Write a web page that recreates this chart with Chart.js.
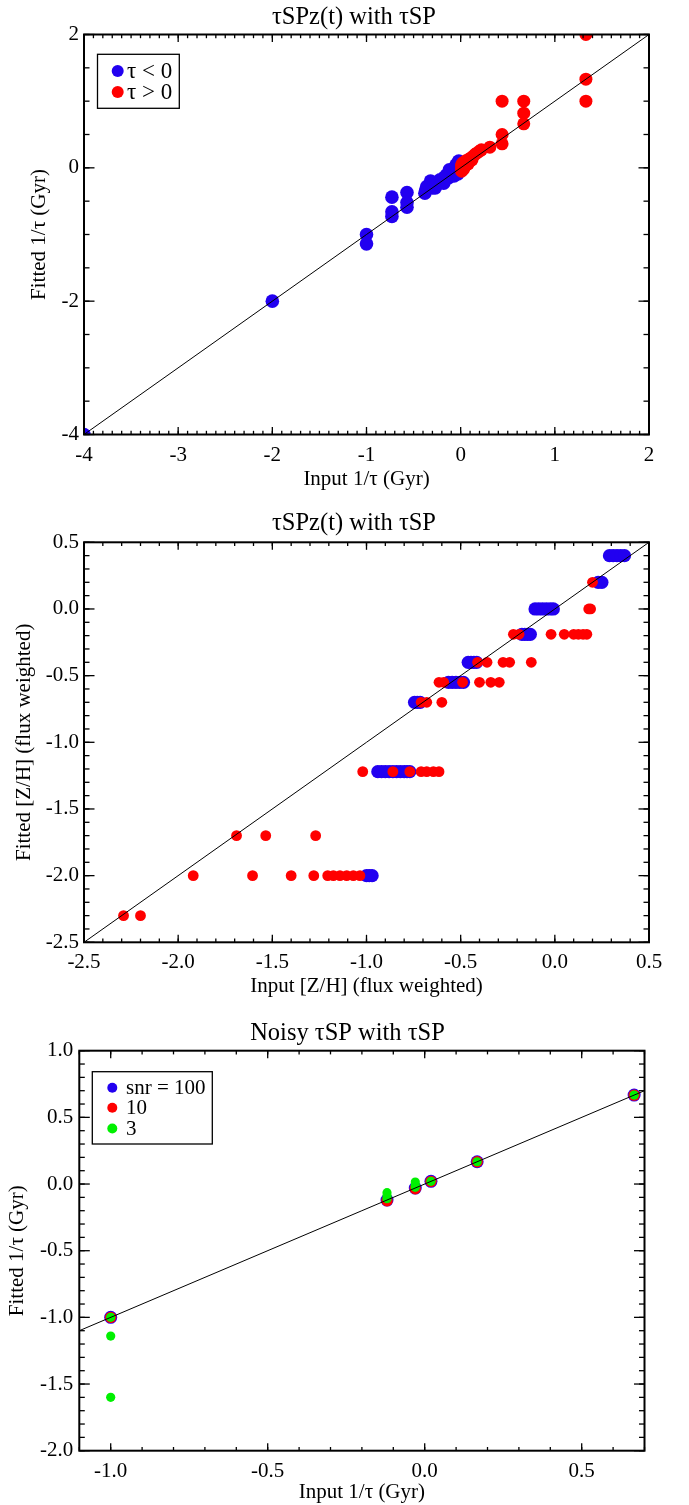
<!DOCTYPE html>
<html>
<head>
<meta charset="utf-8">
<title>tauSP fits</title>
<script src="https://cdn.jsdelivr.net/npm/chart.js@4.4.1/dist/chart.umd.min.js"></script>
<style>
  body { margin: 0; background: #fff; }
  .wrap { position: relative; width: 689px; height: 1505px; }
  canvas { position: absolute; left: 0; }
</style>
</head>
<body>
<div class="wrap">
  <canvas id="c1" width="689" height="500" style="top:0"></canvas>
  <canvas id="c2" width="689" height="500" style="top:500px"></canvas>
  <canvas id="c3" width="689" height="505" style="top:1000px"></canvas>
</div>
<script>
// ---- panel 1: input vs fitted 1/tau ----
const tauXLabels = ['-4', '-3', '-2', '-1', '0', '1', '2'];
const tauYLabels = ['-4', '-2', '0', '2'];
const tauNegIn  = [-4, -2, -1, -1, -0.73, -0.73, -0.73, -0.57, -0.57, -0.57,
                   -0.38, -0.37, -0.36, -0.33, -0.32, -0.3, -0.28, -0.27, -0.25, -0.22, -0.2, -0.18, -0.17,
                   -0.15, -0.13, -0.12, -0.11, -0.1, -0.08, -0.07, -0.06, -0.05, -0.04, -0.03, -0.03,
                   -0.02, -0.01, 0.0];
const tauNegFit = [-4, -2, -1.0, -1.14, -0.44, -0.66, -0.73, -0.37, -0.52, -0.59,
                   -0.38, -0.33, -0.28, -0.26, -0.2, -0.3, -0.22, -0.3, -0.24, -0.18, -0.2, -0.23, -0.14,
                   -0.11, -0.15, -0.03, -0.08, -0.05, -0.1, -0.12, 0.0, 0.04, -0.07, 0.08, -0.09,
                   0.1, -0.04, 0.05];
const tauPosIn  = [0.01, 0.01, 0.01, 0.02, 0.02, 0.03, 0.04, 0.05, 0.05, 0.06, 0.07, 0.08, 0.09,
                   0.1, 0.11, 0.12, 0.13, 0.15, 0.17, 0.2, 0.22, 0.31, 0.44, 0.44, 0.44,
                   0.67, 0.67, 0.67, 1.33, 1.33, 1.33];
const tauPosFit = [-0.05, 0.0, 0.04, 0.07, 0.02, -0.02, 0.09, 0.03, 0.07, 0.11, 0.08, 0.06, 0.13,
                   0.11, 0.15, 0.12, 0.17, 0.2, 0.22, 0.25, 0.27, 0.31, 0.36, 0.5, 1.0,
                   0.66, 0.82, 1.0, 1.0, 1.33, 2.0];
const tauLine = [-4, 2];

// ---- panel 2: input vs fitted [Z/H] ----
const zhXLabels = ['-2.5', '-2.0', '-1.5', '-1.0', '-0.5', '0.0', '0.5'];
const zhYLabels = ['-2.5', '-2.0', '-1.5', '-1.0', '-0.5', '0.0', '0.5'];
const zhNegIn  = [0.29, 0.31, 0.33, 0.35, 0.37,
                  0.23, 0.25,
                  -0.105, -0.085, -0.065, -0.045, -0.025, -0.008,
                  -0.175, -0.16, -0.145, -0.13,
                  -0.46, -0.445, -0.43, -0.415,
                  -0.565, -0.545, -0.525, -0.505, -0.485,
                  -0.745, -0.73, -0.715,
                  -0.94, -0.92, -0.9, -0.88, -0.86, -0.84, -0.82, -0.8, -0.785, -0.77,
                  -1.0, -0.985, -0.97];
const zhNegFit = [0.4, 0.4, 0.4, 0.4, 0.4,
                  0.2, 0.2,
                  0.0, 0.0, 0.0, 0.0, 0.0, 0.0,
                  -0.19, -0.19, -0.19, -0.19,
                  -0.4, -0.4, -0.4, -0.4,
                  -0.55, -0.55, -0.55, -0.55, -0.55,
                  -0.7, -0.7, -0.7,
                  -1.22, -1.22, -1.22, -1.22, -1.22, -1.22, -1.22, -1.22, -1.22, -1.22,
                  -2.0, -2.0, -2.0];
const zhPosIn  = [0.2,
                  0.18, 0.19,
                  -0.22, -0.19, -0.02, 0.05, 0.1, 0.125, 0.15, 0.17,
                  -0.41, -0.36, -0.275, -0.24, -0.125,
                  -0.615, -0.59, -0.49, -0.4, -0.34, -0.295,
                  -0.71, -0.68, -0.6,
                  -1.02, -0.86, -0.77, -0.71, -0.68, -0.645, -0.615,
                  -1.69, -1.535, -1.27,
                  -1.92, -1.605, -1.4, -1.28, -1.206, -1.176, -1.141, -1.105, -1.07, -1.035,
                  -2.29, -2.2];
const zhPosFit = [0.2,
                  0.0, 0.0,
                  -0.19, -0.19, -0.19, -0.19, -0.19, -0.19, -0.19, -0.19,
                  -0.4, -0.4, -0.4, -0.4, -0.4,
                  -0.55, -0.55, -0.55, -0.55, -0.55, -0.55,
                  -0.7, -0.7, -0.7,
                  -1.22, -1.22, -1.22, -1.22, -1.22, -1.22, -1.22,
                  -1.7, -1.7, -1.7,
                  -2.0, -2.0, -2.0, -2.0, -2.0, -2.0, -2.0, -2.0, -2.0, -2.0,
                  -2.3, -2.3];
const zhLine = [-2.5, 0.5];

// ---- panel 3: noisy spectra ----
const snrXLabels = ['-1.0', '-0.5', '0.0', '0.5'];
const snrYLabels = ['-2.0', '-1.5', '-1.0', '-0.5', '0.0', '0.5', '1.0'];
const snr100In  = [-1.0, -0.12, -0.03, 0.02, 0.167, 0.667];
const snr100Fit = [-1.0, -0.12, -0.03, 0.02, 0.167, 0.667];
const snr10In   = [-1.0, -0.12, -0.03, 0.02, 0.167, 0.667];
const snr10Fit  = [-1.0, -0.125, -0.035, 0.02, 0.167, 0.667];
const snr3In    = [-1.0, -1.0, -1.0, -0.12, -0.12, -0.12, -0.03, -0.03, -0.03, 0.02, 0.167, 0.667];
const snr3Fit   = [-1.0, -1.14, -1.6, -0.065, -0.09, -0.11, 0.015, -0.01, -0.025, 0.02, 0.167, 0.667];
const snrLine = [-1.1, 0.7];

const SERIF = '"Liberation Serif", "Times New Roman", serif';
const BLUE = '#2200f0', RED = '#ff0000', GREEN = '#00f000';

const pts = (xs, ys) => xs.map((x, i) => ({ x: x, y: ys[i] }));

function dots(label, xs, ys, color, r, order) {
  return { label: label, data: pts(xs, ys), backgroundColor: color, borderColor: color,
           pointRadius: r, pointBorderWidth: 0, pointHoverRadius: r, order: order };
}
function oneToOne(ends) {
  return { type: 'line', label: '', data: pts(ends, ends), borderColor: '#000', borderWidth: 1,
           pointRadius: 0, showLine: true, order: 0 };
}

// title, frame with inward ticks on all four sides, boxed legend
function decor(o) {
  return {
    id: 'decor',
    afterDatasetsDraw(chart) {
      const { ctx, chartArea: a } = chart;
      const sx = chart.scales.x, sy = chart.scales.y;
      const line = (x1, y1, x2, y2) => { ctx.beginPath(); ctx.moveTo(x1, y1); ctx.lineTo(x2, y2); ctx.stroke(); };
      const steps = (s, step) => {
        const out = [];
        for (let k = Math.ceil(s.min / step - 1e-6); k <= Math.floor(s.max / step + 1e-6); k++) out.push(k * step);
        return out;
      };
      ctx.save();
      ctx.strokeStyle = '#000';
      ctx.lineWidth = 1.3;
      steps(sx, o.xMinor).forEach(v => { const p = sx.getPixelForValue(v); line(p, a.bottom, p, a.bottom - 3.7); line(p, a.top, p, a.top + 3.7); });
      o.xLabels.forEach(t => { const p = sx.getPixelForValue(Number(t)); line(p, a.bottom, p, a.bottom - 7.5); line(p, a.top, p, a.top + 7.5); });
      steps(sy, o.yMinor).forEach(v => { const p = sy.getPixelForValue(v); line(a.left, p, a.left + 5.5, p); line(a.right, p, a.right - 5.5, p); });
      o.yLabels.forEach(t => { const p = sy.getPixelForValue(Number(t)); line(a.left, p, a.left + 10.5, p); line(a.right, p, a.right - 10.5, p); });
      ctx.lineWidth = 2;
      ctx.strokeRect(a.left, a.top, a.width, a.height);

      // title sits a little left of the plot centre, as in the original
      ctx.fillStyle = '#000';
      ctx.font = '24.5px ' + SERIF;
      ctx.textAlign = 'center';
      ctx.textBaseline = 'alphabetic';
      ctx.fillText(o.title, o.titleAt[0], o.titleAt[1]);

      const lg = o.legend;
      if (lg) {
        ctx.lineWidth = 1.3;
        ctx.fillStyle = '#fff';
        ctx.fillRect(lg.x, lg.y, lg.w, lg.h);
        ctx.strokeRect(lg.x, lg.y, lg.w, lg.h);
        ctx.font = lg.size + 'px ' + SERIF;
        ctx.textAlign = 'left';
        ctx.textBaseline = 'middle';
        lg.items.forEach((di, i) => {
          const ds = chart.data.datasets[di];
          const cy = lg.rows[i];
          ctx.fillStyle = ds.backgroundColor;
          ctx.beginPath(); ctx.arc(lg.dotX, cy, lg.r, 0, Math.PI * 2); ctx.fill();
          ctx.fillStyle = '#000';
          ctx.fillText(ds.label, lg.textX, cy + 1);
        });
      }
      ctx.restore();
    }
  };
}

function makeChart(id, o) {
  const tickFont = { family: SERIF, size: 21 };
  const axisFont = { family: SERIF, size: 21 };
  return new Chart(document.getElementById(id), {
    type: 'scatter',
    data: { datasets: o.datasets },
    options: {
      responsive: false,
      animation: false,
      events: [],
      layout: { padding: { left: 0, right: o.padRight, top: o.padTop, bottom: 0 } },
      plugins: {
        legend: { display: false },
        tooltip: { enabled: false },
        title: { display: false }
      },
      scales: {
        x: {
          type: 'linear', min: o.xRange[0], max: o.xRange[1],
          afterBuildTicks: s => { s.ticks = o.xLabels.map(t => ({ value: Number(t) })); },
          afterFit: s => { s.height = o.xHeight; },
          grid: { display: false, drawTicks: false }, border: { display: false },
          ticks: { autoSkip: false, maxRotation: 0, padding: 8, color: '#000', font: tickFont,
                   callback: (v, i) => o.xLabels[i] },
          title: { display: true, text: o.xTitle, color: '#000', font: axisFont,
                   padding: { top: 0, bottom: o.xTitlePad } }
        },
        y: {
          type: 'linear', min: o.yRange[0], max: o.yRange[1],
          afterBuildTicks: s => { s.ticks = o.yLabels.map(t => ({ value: Number(t) })); },
          afterFit: s => { s.width = o.yWidth; },
          grid: { display: false, drawTicks: false }, border: { display: false },
          ticks: { autoSkip: false, padding: o.yTickPad, color: '#000', font: tickFont,
                   callback: (v, i) => o.yLabels[i] },
          title: { display: true, text: o.yTitle, color: '#000', font: axisFont,
                   padding: { top: o.yTitlePad, bottom: 0 } }
        }
      }
    },
    plugins: [decor(o)]
  });
}

makeChart('c1', {
  title: 'τSPz(t) with τSP', titleAt: [354, 23.5], padTop: 34.5,
  xTitle: 'Input 1/τ (Gyr)', yTitle: 'Fitted 1/τ (Gyr)',
  xRange: [-4, 2], yRange: [-4, 2], xLabels: tauXLabels, yLabels: tauYLabels,
  xMinor: 0.1, yMinor: 0.5,
  xHeight: 65.5, yWidth: 84, padRight: 40, xTitlePad: 8.4, yTitlePad: 26.9, yTickPad: 5,
  datasets: [
    oneToOne(tauLine),
    dots('τ > 0', tauPosIn, tauPosFit, RED, 6.5, 1),
    dots('τ < 0', tauNegIn, tauNegFit, BLUE, 6.8, 2)
  ],
  legend: { x: 97.5, y: 54.3, w: 81.8, h: 54, dotX: 117.7, textX: 127, r: 6, size: 23, rows: [71, 92], items: [2, 1] }
});

makeChart('c2', {
  title: 'τSPz(t) with τSP', titleAt: [354, 30], padTop: 42.3,
  xTitle: 'Input [Z/H] (flux weighted)', yTitle: 'Fitted [Z/H] (flux weighted)',
  xRange: [-2.5, 0.5], yRange: [-2.5, 0.5], xLabels: zhXLabels, yLabels: zhYLabels,
  xMinor: 0.1, yMinor: 0.1,
  xHeight: 57.7, yWidth: 84, padRight: 40, xTitlePad: 1.4, yTitlePad: 11.4, yTickPad: 5,
  datasets: [
    oneToOne(zhLine),
    dots('τ > 0', zhPosIn, zhPosFit, RED, 5.4, 1),
    dots('τ < 0', zhNegIn, zhNegFit, BLUE, 6.6, 2)
  ],
  legend: null
});

makeChart('c3', {
  title: 'Noisy τSP with τSP', titleAt: [347.5, 40], padTop: 50.7,
  xTitle: 'Input 1/τ (Gyr)', yTitle: 'Fitted 1/τ (Gyr)',
  xRange: [-1.1, 0.7], yRange: [-2.0, 1.0], xLabels: snrXLabels, yLabels: snrYLabels,
  xMinor: 0.1, yMinor: 0.1,
  xHeight: 54.3, yWidth: 79.3, padRight: 44.5, xTitlePad: 0, yTitlePad: 4.9, yTickPad: 6,
  datasets: [
    oneToOne(snrLine),
    dots('3', snr3In, snr3Fit, GREEN, 4.6, 1),
    dots('10', snr10In, snr10Fit, RED, 5.7, 2),
    dots('snr = 100', snr100In, snr100Fit, BLUE, 6.5, 3)
  ],
  legend: { x: 92.3, y: 71.7, w: 120, h: 72.3, dotX: 112.3, textX: 126, r: 5, size: 21, rows: [87.7, 107.7, 128.5], items: [3, 2, 1] }
});
</script>
</body>
</html>
